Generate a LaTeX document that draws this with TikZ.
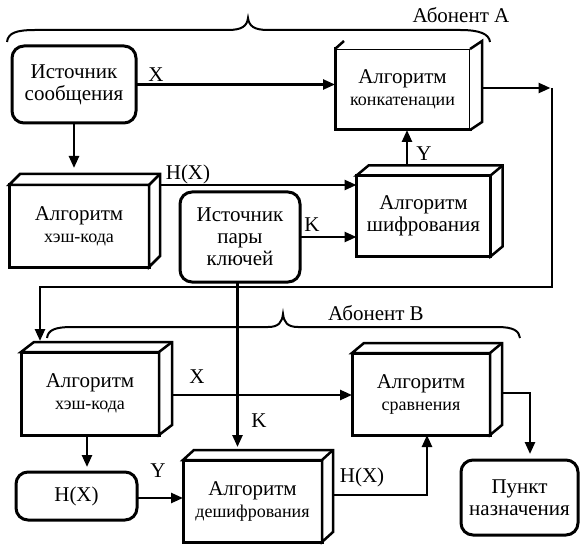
\documentclass[tikz,border=0pt]{standalone}
\usepackage{fontspec}
\setmainfont{Liberation Serif}
\usetikzlibrary{arrows.meta}

% top and right faces of a solid block, d = (#2,#3)
\newcommand\blockfaces[3]{%
  \filldraw[face] (#1.north west) -- ++(#2,-#3) -- ([shift={(#2,-#3)}]#1.north east)
    -- ([shift={(#2,-#3)}]#1.south east) -- (#1.south east) -- (#1.north east) -- cycle;
  \draw[face] (#1.north east) -- ++(#2,-#3);
}
\newcommand\bigtxt{\fontsize{21}{22}\selectfont}
\newcommand\smalltxt{\fontsize{18}{22}\selectfont}

\begin{document}
\begin{tikzpicture}[x=1pt,y=-1pt,
  block/.style={draw, line width=3pt, inner sep=0pt, outer sep=0pt, align=center,
    font=\bigtxt, fill=white},
  srcbox/.style={draw, line width=3pt, rounded corners=12pt, inner sep=0pt, outer sep=0pt,
    align=center, font=\bigtxt, fill=white},
  face/.style={line width=2.5pt, fill=white, line join=miter},
  link/.style={line width=2.5pt, -{Triangle[length=12pt,width=10pt]}},
  wire/.style={line width=2.5pt},
  brace/.style={line width=2pt},
  lbl/.style={font=\bigtxt, inner sep=0pt, anchor=base}]
\useasboundingbox (0,0) rectangle (580,545);

% ---------- subscriber A ----------
\node[srcbox, minimum width=124, minimum height=77] (src) at (74,84.5)
  {Источник\\сообщения};
\node[block, minimum width=135, minimum height=81] (concat) at (402.5,89.5)
  {Алгоритм\\\smalltxt конкатенации};
\node[block, minimum width=140, minimum height=82] (hashA) at (79,226)
  {Алгоритм\\\smalltxt хэш-кода};
\node[block, minimum width=134, minimum height=81] (encr) at (423.5,216)
  {Алгоритм\\шифрования};
\node[srcbox, minimum width=120, minimum height=90] (keys) at (240,237)
  {Источник\\пары\\ключей};

% ---------- subscriber B ----------
\node[block, minimum width=138, minimum height=83] (hashB) at (90,393.5)
  {Алгоритм\\\smalltxt хэш-кода};
\node[block, minimum width=138, minimum height=82] (compare) at (421,394)
  {Алгоритм\\\smalltxt сравнения};
\node[srcbox, minimum width=121, minimum height=48] (hx) at (76.5,496) {H(X)};
\node[block, minimum width=139, minimum height=82] (decrypt) at (252.5,501)
  {Алгоритм\\\smalltxt дешифрования};
\node[srcbox, minimum width=117, minimum height=75] (dest) at (519.5,497.5)
  {Пункт\\назначения};

% ---------- corner points of the routed lines ----------
\coordinate (r1) at (552,88);
\coordinate (r2) at (552,287);
\coordinate (l2) at (40,287);
\coordinate (bin) at (40,341);
\coordinate (t1) at (530,393);
\coordinate (t2) at (427,495);

% ---------- connectors ----------
\draw[link] (src.east) -- (src.east -| concat.west);
\draw[link, shorten >=1.5pt] (concat.east |- r1) -- (r1);
\draw[link] (r1) -- (r2) -- (l2) -- (bin);
\draw[link, shorten >=17pt] (src.south) -- (src.south |- hashA.north);
\draw[link] (hashA.north east) -- (hashA.north east -| encr.west);
\draw[link] (keys.east) -- (keys.east -| encr.west);
\draw[link] (407,0 |- encr.north) -- (407,0 |- concat.south);
\draw[link, shorten >=13pt] (237.5,0 |- keys.south) -- (237.5,0 |- decrypt.north);
\draw[link] (hashB.east |- 0,395) -- (compare.west |- 0,395);
\draw[link, shorten >=6pt] (compare.east |- t1) -- (t1) -- (t1 |- dest.north);
\draw[link, shorten >=5pt] (87,0 |- hashB.south) -- (87,0 |- hx.north);
\draw[link] (hx.east |- 0,498) -- (decrypt.west |- 0,498);
\draw[link] (decrypt.east |- t2) -- (t2) -- (t2 |- compare.south);

% ---------- block depth ----------
\blockfaces{hashA}{11}{11}
\blockfaces{encr}{12}{10}
\blockfaces{hashB}{13}{10}
\blockfaces{compare}{12}{10}
\blockfaces{decrypt}{11}{10}
\fill[white] (concat.north west) -- ++(9,-8) -- ([shift={(12,-8)}]concat.north east)
  -- ([shift={(12,-8)}]concat.south east) -- (concat.south east) -- (concat.north east) -- cycle;
\draw[face] (concat.north west) -- ++(9,-8);
\draw[face] (concat.north east) -- ++(12,-8) -- ([shift={(12,-8)}]concat.south east)
  -- (concat.south east);

% ---------- labels ----------
\node[lbl] (lx1) at (156,82) {X};
\node[lbl] (lh1) at (188,180) {H(X)};
\node[lbl] (lk1) at (312,232) {K};
\node[lbl] (ly1) at (424,161) {Y};
\node[lbl] (lx2) at (197,383) {X};
\node[lbl] (lk2) at (259,427) {K};
\node[lbl] (ly2) at (158,477) {Y};
\node[lbl] (lh2) at (362,482) {H(X)};
\node[lbl] (la) at (461,23) {Абонент А};
\node[lbl] (lb) at (376,320) {Абонент В};

% ---------- braces ----------
\draw[brace] (7,42) .. controls (8,33) and (16,30) .. (35,30) -- (228,30)
  .. controls (242,30) and (247,26) .. (248,18)
  .. controls (249,26) and (254,30) .. (268,30) -- (460,30)
  .. controls (480,30) and (489,34) .. (490,42);
\draw[brace] (47,338) .. controls (48,330) and (55,327) .. (72,327) -- (268,327)
  .. controls (279,327) and (282,322) .. (283,314)
  .. controls (284,322) and (287,327) .. (298,327) -- (497,327)
  .. controls (514,327) and (519,331) .. (520,338);
\end{tikzpicture}
\end{document}
